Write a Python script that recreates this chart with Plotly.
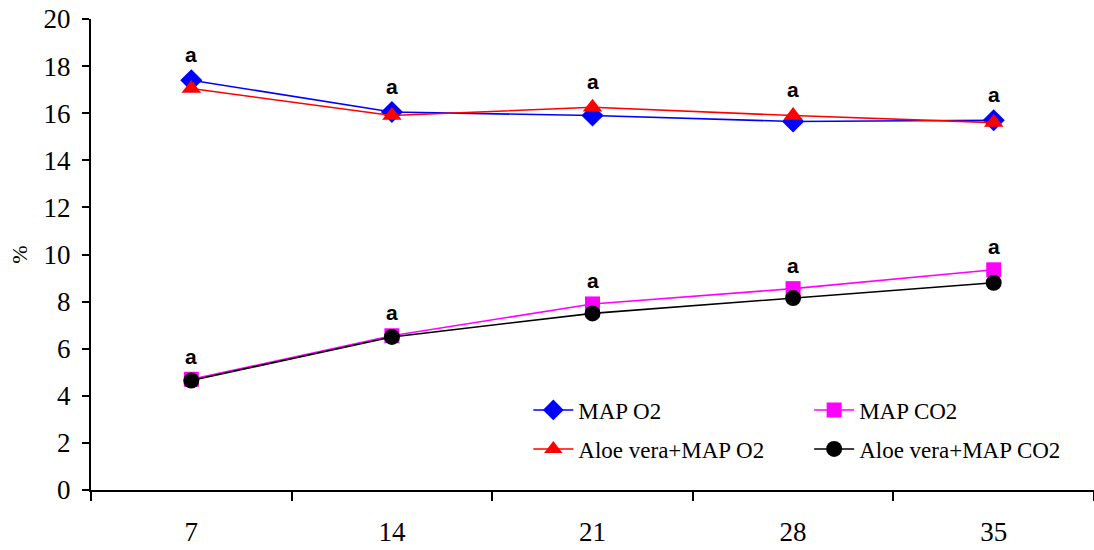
import plotly.graph_objects as go

days = ["7", "14", "21", "28", "35"]
map_o2 = [17.4, 16.05, 15.9, 15.65, 15.7]
aloe_o2 = [17.05, 15.9, 16.25, 15.9, 15.6]
map_co2 = [4.7, 6.55, 7.9, 8.55, 9.35]
aloe_co2 = [4.65, 6.5, 7.5, 8.15, 8.8]
sig_o2 = ["a", "a", "a", "a", "a"]
sig_co2 = ["a", "a", "a", "a", "a"]

SERIF = "Times New Roman, Liberation Serif, serif"

fig = go.Figure()
series = [
    ("MAP O2", map_o2, "#0000FF", "diamond", 17, "legend"),
    ("MAP CO2", map_co2, "#FF00FF", "square", 15, "legend2"),
    ("Aloe vera+MAP O2", aloe_o2, "#FF0000", "triangle-up", 17, "legend3"),
    ("Aloe vera+MAP CO2", aloe_co2, "#000000", "circle", 16, "legend4"),
]
for name, vals, col, sym, sz, lg in series:
    fig.add_trace(go.Scatter(
        x=days, y=vals, name=name, mode="lines+markers",
        line=dict(color=col, width=1.6),
        marker=dict(symbol=sym, size=sz, color=col),
        legend=lg,
    ))

afont = dict(family="Arial, Liberation Sans, sans-serif", size=21, color="black")
for i in range(len(days)):
    fig.add_annotation(x=i, xref="x", y=max(map_o2[i], aloe_o2[i]), text="<b>" + sig_o2[i] + "</b>",
                       showarrow=False, yshift=26, yanchor="middle", font=afont)
    fig.add_annotation(x=i, xref="x", y=max(map_co2[i], aloe_co2[i]), text="<b>" + sig_co2[i] + "</b>",
                       showarrow=False, yshift=23, yanchor="middle", font=afont)

legfont = dict(family=SERIF, size=23, color="black")
def leg(x, y):
    return dict(x=x, y=y, xanchor="left", yanchor="middle", font=legfont,
                bgcolor="rgba(0,0,0,0)", itemwidth=40, tracegroupgap=0)

fig.update_layout(
    width=1094, height=550,
    margin=dict(l=91, r=0, t=19, b=60),
    plot_bgcolor="white", paper_bgcolor="white",
    showlegend=True,
    legend=leg(0.436, (490 - 410) / 471),
    legend2=leg(0.716, (490 - 410) / 471),
    legend3=leg(0.436, (490 - 449) / 471),
    legend4=leg(0.716, (490 - 449) / 471),
    xaxis=dict(
        type="category", range=[-0.5, 4.5],
        showline=True, linecolor="black", linewidth=2,
        ticks="outside", tickson="boundaries", ticklen=9, tickwidth=1.5, tickcolor="black",
        showgrid=False, zeroline=False,
        tickfont=dict(family=SERIF, size=27, color="black"),
        ticklabelstandoff=17,
    ),
    yaxis=dict(
        range=[0, 20], dtick=2,
        showline=True, linecolor="black", linewidth=2,
        ticks="outside", ticklen=7, tickwidth=1.5, tickcolor="black",
        showgrid=False, zeroline=False,
        tickfont=dict(family=SERIF, size=27, color="black"),
        ticklabelstandoff=6,
        title=dict(text="%", font=dict(family=SERIF, size=22, color="black"), standoff=10),
    ),
)

fig.write_html("out.html", post_script="document.body.style.margin='0';",
               config={"displayModeBar": False})
